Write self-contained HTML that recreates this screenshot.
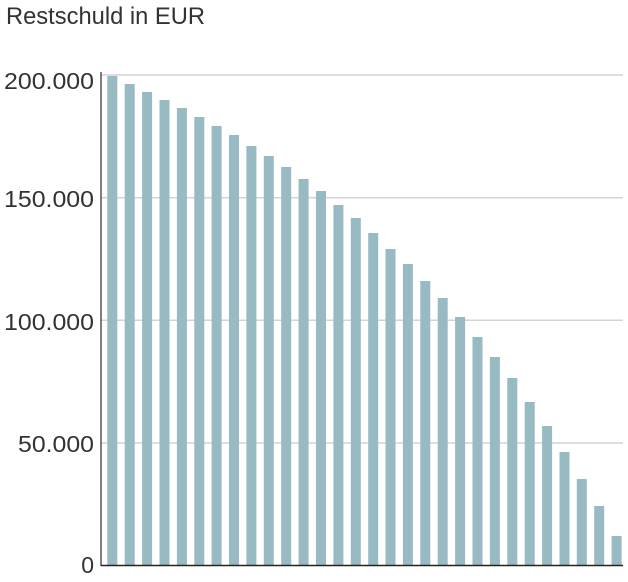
<!DOCTYPE html>
<html><head><meta charset="utf-8"><style>body{margin:0;background:#fff}svg{display:block}</style></head>
<body>
<svg width="628" height="582" xmlns="http://www.w3.org/2000/svg" font-family="Liberation Sans, sans-serif">
<text x="6" y="24" font-size="24" fill="#333" textLength="199" lengthAdjust="spacingAndGlyphs">Restschuld in EUR</text>
<g stroke="#d4d4d4" stroke-width="1.5">
<line x1="101" y1="75" x2="623" y2="75"/>
<line x1="101" y1="197.7" x2="623" y2="197.7"/>
<line x1="101" y1="320.3" x2="623" y2="320.3"/>
<line x1="101" y1="443" x2="623" y2="443"/>
</g>
<g font-size="23" fill="#333" text-anchor="end">
<text x="94" y="89" textLength="90" lengthAdjust="spacingAndGlyphs">200.000</text>
<text x="94" y="207" textLength="90" lengthAdjust="spacingAndGlyphs">150.000</text>
<text x="94" y="330" textLength="90" lengthAdjust="spacingAndGlyphs">100.000</text>
<text x="94" y="452" textLength="76" lengthAdjust="spacingAndGlyphs">50.000</text>
<text x="94" y="573">0</text>
</g>
<g fill="#97bac3">
<rect x="107.3" y="76" width="10" height="489"/>
<rect x="124.7" y="84" width="10" height="481"/>
<rect x="142.1" y="92" width="10" height="473"/>
<rect x="159.5" y="100" width="10" height="465"/>
<rect x="176.9" y="108" width="10" height="457"/>
<rect x="194.3" y="117" width="10" height="448"/>
<rect x="211.6" y="126" width="10" height="439"/>
<rect x="229.0" y="135" width="10" height="430"/>
<rect x="246.4" y="146" width="10" height="419"/>
<rect x="263.8" y="156" width="10" height="409"/>
<rect x="281.2" y="167" width="10" height="398"/>
<rect x="298.6" y="179" width="10" height="386"/>
<rect x="316.0" y="191" width="10" height="374"/>
<rect x="333.4" y="205" width="10" height="360"/>
<rect x="350.8" y="218" width="10" height="347"/>
<rect x="368.2" y="233" width="10" height="332"/>
<rect x="385.5" y="249" width="10" height="316"/>
<rect x="402.9" y="264" width="10" height="301"/>
<rect x="420.3" y="281" width="10" height="284"/>
<rect x="437.7" y="298" width="10" height="267"/>
<rect x="455.1" y="317" width="10" height="248"/>
<rect x="472.5" y="337" width="10" height="228"/>
<rect x="489.9" y="357" width="10" height="208"/>
<rect x="507.3" y="378" width="10" height="187"/>
<rect x="524.7" y="402" width="10" height="163"/>
<rect x="542.1" y="426" width="10" height="139"/>
<rect x="559.5" y="452" width="10" height="113"/>
<rect x="576.8" y="479" width="10" height="86"/>
<rect x="594.2" y="506" width="10" height="59"/>
<rect x="611.6" y="536" width="10" height="29"/>
</g>
<line x1="101" y1="72" x2="101" y2="566" stroke="#555" stroke-width="1.5"/>
<line x1="101" y1="565.5" x2="623" y2="565.5" stroke="#222" stroke-width="1.5"/>
</svg>
</body></html>
